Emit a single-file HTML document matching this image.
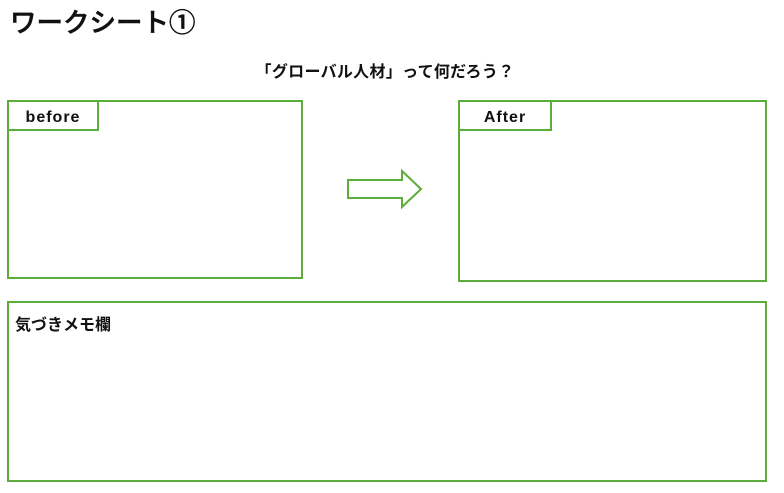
<!DOCTYPE html>
<html><head><meta charset="utf-8"><style>
body{margin:0;background:#fff;width:784px;height:493px;overflow:hidden;font-family:"Liberation Sans","Noto Sans CJK JP",sans-serif;}
</style></head><body>
<svg width="784" height="493" xmlns="http://www.w3.org/2000/svg" style="position:absolute;left:0;top:0">
<g fill="none" stroke="#5aad3a" stroke-width="2">
<rect x="8" y="101" width="294" height="177"/>
<rect x="8" y="101" width="90" height="29"/>
<rect x="459" y="101" width="307" height="180"/>
<rect x="459" y="101" width="92" height="29"/>
<rect x="8" y="302" width="758" height="179"/>
<polygon points="348,180 402,180 402,171 421,189 402,207 402,198 348,198"/>
</g>
<g font-family="Liberation Sans,Noto Sans CJK JP,sans-serif" fill="#111">
<text x="10" y="32" font-size="26.5" font-weight="500" stroke="#111" stroke-width="0.5">ワークシート①</text>
<text x="385" y="77" font-size="16" font-weight="bold" text-anchor="middle" letter-spacing="0.3">「グローバル人材」って何だろう？</text>
<text x="53" y="122" font-size="16" font-weight="bold" text-anchor="middle" font-family="Liberation Sans Narrow,Liberation Sans,sans-serif" letter-spacing="1">before</text>
<text x="505" y="122" font-size="16" font-weight="bold" text-anchor="middle" font-family="Liberation Sans Narrow,Liberation Sans,sans-serif" letter-spacing="1">After</text>
<text x="15" y="330" font-size="16" font-weight="bold">気づきメモ欄</text>
</g>
</svg>
</body></html>
